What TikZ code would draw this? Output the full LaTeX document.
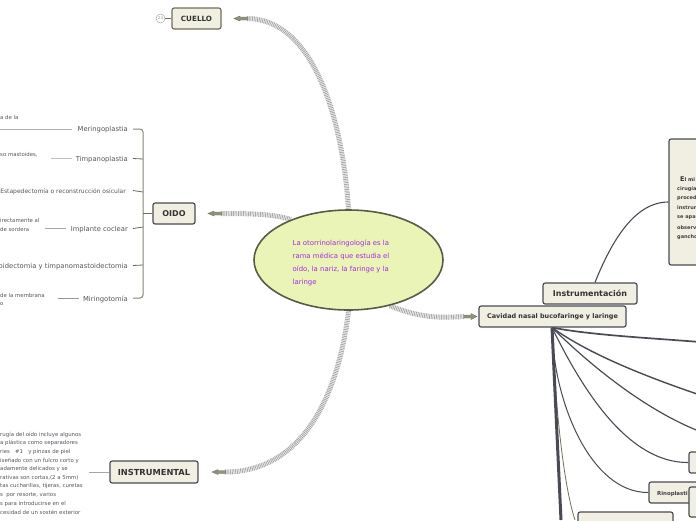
\documentclass[tikz,border=0pt]{standalone}
\usepackage{fontspec}
\usetikzlibrary{shapes.geometric}
\setmainfont{DejaVu Sans}
\pgfdeclarelayer{behind}
\pgfsetlayers{behind,main}
\newcommand{\comma}{,}
\newcommand{\lowered}[1]{\raisebox{-.8pt}{#1}}
\definecolor{boxfill}{HTML}{F1EFE2}
\definecolor{boxline}{HTML}{484B54}
\definecolor{oliveline}{HTML}{6E6E5A}
\definecolor{rootfill}{HTML}{E9F4B6}
\definecolor{rootline}{HTML}{5A5A48}
\definecolor{rootText}{HTML}{A72BE0}
\definecolor{smalltext}{HTML}{55565C}
\tikzset{
  topicbox/.style={draw=#1,fill=boxfill,line width=1.2pt,rounded corners=2.2pt,inner sep=0pt,text=black!80,font=\bfseries},
  topicbox/.default=boxline,
  stripe/.style={draw=black!34,line width=5pt,dash pattern=on .9pt off .8pt},
  tiny/.style={text=smalltext,font=\fontsize{5.4}{9}\selectfont,inner sep=0pt,yshift=-.7pt},
  sub/.style={text=smalltext,font=\fontsize{6.8}{9}\selectfont,inner sep=0pt,yshift=-1pt},
  roottext/.style={anchor=west,inner sep=0pt,text=rootText,font=\fontsize{6.9}{8}\selectfont,yshift=-.7pt},
  branchline/.style={draw=oliveline,line width=1pt},
  stub/.style={draw=black!60,line width=.8pt},
  arrowshape/.style={fill=oliveline!75,draw=oliveline,line width=.4pt},
  darkbranch/.style={draw=boxline,line width=#1},
}
\begin{document}
\begin{tikzpicture}[x=1pt,y=-1pt]
\useasboundingbox (0,0) rectangle (696,520);
\clip (0,0) rectangle (696,520);
% nodes
\node[ellipse,draw=rootline,fill=rootfill,line width=1.6pt,minimum width=189pt,minimum height=100pt,inner sep=0pt] (root) at (348.5,260) {};
\node[topicbox=oliveline,minimum width=49pt,minimum height=21pt,font=\bfseries\fontsize{7.2}{8}\selectfont] (cuello) at (196.5,18.5) {\lowered{CUELLO}};
\node[circle,draw=black!35,line width=.5pt,minimum size=9pt,inner sep=0pt,text=black!40,font=\fontsize{4}{4}\selectfont] (badge) at (160.5,18.5) {24};
\node[topicbox,minimum width=42pt,minimum height=21pt,font=\bfseries\fontsize{8}{9}\selectfont] (oido) at (174,213.5) {\lowered{OIDO}};
\node[topicbox,minimum width=88pt,minimum height=22pt,font=\bfseries\fontsize{8.3}{9}\selectfont] (instr) at (154,472) {\lowered{INSTRUMENTAL}};
\node[topicbox,minimum width=94pt,minimum height=21pt,font=\bfseries\fontsize{8}{9}\selectfont] (instrum) at (590,293.5) {\lowered{Instrumentación}};
\node[topicbox,minimum width=147pt,minimum height=21pt,font=\bfseries\fontsize{6.45}{8}\selectfont] (cavidad) at (552.5,316.5) {\lowered{Cavidad nasal bucofaringe y laringe}};
\node[topicbox,minimum width=80pt,minimum height=126pt] (micro) at (709,202) {};
\node[topicbox,minimum width=40pt,minimum height=21pt] (boxa) at (709,462.5) {};
\node[topicbox,minimum width=60pt,minimum height=21pt] (rino) at (679,492.5) {};
\node[anchor=west,inner sep=0pt,text=black!75,font=\bfseries\fontsize{5.4}{6}\selectfont] (rinot) at (657,494) {Rinoplasti};
\node[topicbox,minimum width=40pt,minimum height=30pt] (boxb) at (709,502) {};
\node[topicbox,minimum width=95pt,minimum height=30pt] (boxc) at (625.5,527) {};
% right box text
\node[anchor=west,inner sep=0pt,text=black!80,font=\bfseries\fontsize{5}{6}\selectfont] (m1) at (680,179.5) {\fontsize{6.5}{6}\selectfont E\fontsize{5}{6}\selectfont l mi};
\foreach \n/\t/\y in {m2/cirugía/188.8,m3/proced/198.5,m4/instrum/208,m5/se apa/217.8,m6/observ/227.3,m7/gancho/237}
  \node[anchor=west,inner sep=0pt,text=black!75,font=\bfseries\fontsize{5}{6}\selectfont] (\n) at (677,\y) {\t};
% root text
\foreach \n/\t/\y in {r1/La otorrinolaringología es la/242.5,r2/rama médica que estudia el/255.5,r3/oído\comma\ la nariz\comma\ la faringe y la/269,r4/laringe/282}
  \node[roottext] (\n) at (292.5,\y) {\t};
% oido sub
\node[sub,anchor=east] (s1) at (128,129) {Meringoplastia};
\node[sub,anchor=east] (s2) at (128,158.5) {Timpanoplastia};
\node[tiny,anchor=east,font=\fontsize{6}{7}\selectfont] (s3) at (126,191.5) {Estapedectomía o reconstrucción osicular};
\node[sub,anchor=east] (s4) at (128,228.5) {Implante coclear};
\node[sub,anchor=east] (s5) at (128,265.5) {oidectomia y timpanomastoidectomia};
\node[sub,anchor=east] (s6) at (128,298) {Miringotomía};
\node[tiny,anchor=west] (t1a) at (0,117) {a de la};
\node[tiny,anchor=west] (t2a) at (0,154) {so mastoides,};
\node[tiny,anchor=west] (t4a) at (0,220) {irectamente al};
\node[tiny,anchor=west] (t4b) at (0,229) {de sordera};
\node[tiny,anchor=west] (t6a) at (0,295) {de la membrana};
\node[tiny,anchor=west] (t6b) at (0,303) {o};
\coordinate (c1) at (0,129);
\coordinate (c2) at (51,158.5);
\coordinate (c4) at (45,228.5);
\coordinate (c6) at (58,298);
\draw[draw=black!30,line width=.8pt] (c1) -- ([shift={(-5pt,1pt)}]s1.west);
\draw[draw=black!25,line width=1.2pt] (c2) -- ([shift={(-4pt,1pt)}]s2.west);
\draw[draw=black!35,line width=.7pt] (c4) -- ([shift={(-5pt,1pt)}]s4.west);
\draw[draw=oliveline!70,line width=.7pt] (c6) -- ([shift={(-4pt,1pt)}]s6.west);
% oido bracket
\coordinate (bt) at (133,129);
\coordinate (bb) at (133,298);
\coordinate (j) at (143,213.5);
\coordinate (b2) at (133,158.5);
\coordinate (b3) at (133,190.5);
\coordinate (b4) at (133,228.5);
\coordinate (b5) at (133,265.5);
\draw[draw=oliveline!85,line width=1pt,rounded corners=3pt] (bt) -- (143,129) -- (143,298) -- (bb);
\draw[branchline] (oido.west) -- (j);
\draw[stub] (b2) -- (143,159);
\draw[stub] (b3) -- (143,192);
\draw[stub] (b4) -- (143,227);
\draw[stub] (b5) -- (143,265);
% instrumental text
\foreach \n/\t/\y in {i1/rugía del oído incluye algunos/434,i2/a plástica como separadores/442.5,i3/ries \ \ \#1 \ \ y pinzas de piel/451.5,i4/iseñado con un fulcro corto y/460,i5/adamente delicados y se/468.5,i6/rativas son cortas\comma(2 a 5mm)/477,i7/tas cucharillas\comma\ tijeras\comma\ curetas/485.5,i8/s \ por resorte\comma\ varios/494.5,i9/s para introducirse en el/503.5,i10/cesidad de un sostén exterior/511.5}
  \node[tiny,anchor=west] (\n) at (0,\y) {\t};
\coordinate (ic) at (89,472);
\draw[draw=black!35,line width=1pt] (ic) -- (instr.west);
\draw[draw=oliveline,line width=.8pt] (badge) -- (cuello.west);
% stripes
\coordinate (ac) at (247,18.5);
\coordinate (ao) at (221,213.5);
\coordinate (ai) at (225,472);
\coordinate (aca) at (464,316.5);
\begin{pgfonlayer}{behind}
\path[stripe] (ac) .. controls (310,18.5) and (342,110) .. (root.north);
\path[stripe] (ao) .. controls (250,213.5) and (275,214) .. (root.145);
\path[stripe] (ai) .. controls (300,472) and (338,400) .. (root.south);
\path[stripe] (aca) .. controls (440,318) and (420,318) .. (root.-48);
\end{pgfonlayer}
% arrows
\path[arrowshape] (234,18.5) -- (240,16) -- (240,17) -- (248,17) -- (248,20) -- (240,20) -- (240,21) -- cycle;
\path[arrowshape] (208,213.5) -- (214,211) -- (214,212) -- (222,212) -- (222,215) -- (214,215) -- (214,216) -- cycle;
\path[arrowshape] (212,472) -- (218,469.5) -- (218,470.5) -- (226,470.5) -- (226,473.5) -- (218,473.5) -- (218,474.5) -- cycle;
\path[arrowshape] (477,316.5) -- (471,313.5) -- (471,315) -- (464,315) -- (464,318) -- (471,318) -- (471,319.5) -- cycle;
% right side connectors
\coordinate (h) at (552,327.5);
\coordinate (e1) at (700,342);
\coordinate (e2) at (700,395);
\coordinate (e3) at (700,431.5);
\coordinate (e4) at (561,520);
\coordinate (e5) at (575,520);
\begin{pgfonlayer}{behind}
\draw[darkbranch=1.1pt] (instrum.north) ++(5,0) .. controls (612,240) and (635,202) .. (micro.west);
\draw[darkbranch=1.7pt] (h) .. controls (590,335) and (650,338) .. (e1);
\draw[darkbranch=1.4pt] (h) .. controls (590,355) and (650,378) .. (e2);
\draw[darkbranch=1.2pt] (h) .. controls (590,365) and (645,410) .. (e3);
\draw[darkbranch=1.1pt] (h) .. controls (585,395) and (630,463) .. (boxa.west);
\draw[darkbranch=1pt] (h) .. controls (553,400) and (590,493) .. (rino.west);
\draw[draw=oliveline,line width=.8pt] (h) .. controls (556,420) and (565,490) .. (e5);
\draw[darkbranch=3pt] (h) -- (e4);
\end{pgfonlayer}
\end{tikzpicture}
\end{document}
